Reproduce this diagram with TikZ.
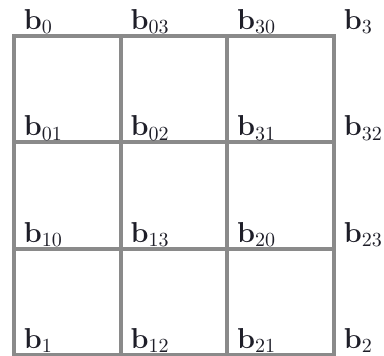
\documentclass[tikz,border=0pt]{standalone}
\begin{document}
\begin{tikzpicture}[x=0.5pt,y=-0.5pt,
  gridline/.style={draw={rgb,255:red,138;green,138;blue,138}, line width=2pt},
  lab/.style={anchor=base west, inner sep=0pt, text={rgb,255:red,30;green,30;blue,40}, font=\fontsize{14}{16}\selectfont}]
\useasboundingbox (0,0) rectangle (384,355);
\foreach \i/\x in {0/14,1/120.67,2/227.33,3/334}
  \foreach \j/\y in {0/36,1/142.33,2/248.67,3/355}
    \coordinate (p\i\j) at (\x,\y);
% grid
\draw[gridline] (p00) rectangle (p33);
\draw[gridline] (p10) -- (p13);
\draw[gridline] (p20) -- (p23);
\draw[gridline] (p01) -- (p31);
\draw[gridline] (p02) -- (p32);
% labels
\node[lab] (b0)  at ([shift={(9.5,-6.5)}]p00) {$\mathbf{b}_{0}$};
\node[lab] (b03) at ([shift={(9.5,-6.5)}]p10) {$\mathbf{b}_{03}$};
\node[lab] (b30) at ([shift={(9.5,-6.5)}]p20) {$\mathbf{b}_{30}$};
\node[lab] (b3)  at ([shift={(9.5,-6.5)}]p30) {$\mathbf{b}_{3}$};
\node[lab] (b01) at ([shift={(9.5,-6.5)}]p01) {$\mathbf{b}_{01}$};
\node[lab] (b02) at ([shift={(9.5,-6.5)}]p11) {$\mathbf{b}_{02}$};
\node[lab] (b31) at ([shift={(9.5,-6.5)}]p21) {$\mathbf{b}_{31}$};
\node[lab] (b32) at ([shift={(9.5,-6.5)}]p31) {$\mathbf{b}_{32}$};
\node[lab] (b10) at ([shift={(9.5,-6.5)}]p02) {$\mathbf{b}_{10}$};
\node[lab] (b13) at ([shift={(9.5,-6.5)}]p12) {$\mathbf{b}_{13}$};
\node[lab] (b20) at ([shift={(9.5,-6.5)}]p22) {$\mathbf{b}_{20}$};
\node[lab] (b23) at ([shift={(9.5,-6.5)}]p32) {$\mathbf{b}_{23}$};
\node[lab] (b1)  at ([shift={(9.5,-6.5)}]p03) {$\mathbf{b}_{1}$};
\node[lab] (b12) at ([shift={(9.5,-6.5)}]p13) {$\mathbf{b}_{12}$};
\node[lab] (b21) at ([shift={(9.5,-6.5)}]p23) {$\mathbf{b}_{21}$};
\node[lab] (b2)  at ([shift={(9.5,-6.5)}]p33) {$\mathbf{b}_{2}$};
\end{tikzpicture}
\end{document}
